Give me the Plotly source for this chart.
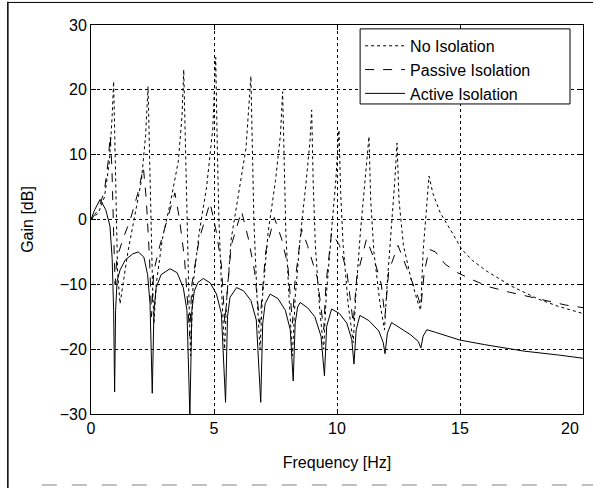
import plotly.graph_objects as go

# ---- data ----
freq_none = [0, 0.3, 0.55, 0.75, 0.86, 0.92, 0.97, 1.02, 1.08, 1.18, 1.3, 1.5, 1.8, 2.05, 2.22, 2.32,
             2.38, 2.43, 2.5, 2.56, 2.65, 2.9, 3.25, 3.55, 3.7, 3.77, 3.83, 3.9, 3.98, 4.05, 4.15, 4.4,
             4.7, 4.95, 5.07, 5.13, 5.2, 5.32, 5.43, 5.52, 5.7, 6.0, 6.3, 6.5, 6.56, 6.62, 6.75, 6.87,
             6.97, 7.2, 7.5, 7.7, 7.79, 7.85, 7.92, 8.05, 8.19, 8.3, 8.5, 8.75, 8.9, 8.97, 9.03, 9.12,
             9.3, 9.46, 9.56, 9.75, 9.95, 10.08, 10.15, 10.25, 10.45, 10.66, 10.76, 10.95, 11.15, 11.3,
             11.37, 11.5, 11.75, 11.93, 12.02, 12.2, 12.35, 12.44, 12.52, 12.7, 13.0, 13.3, 13.4, 13.5,
             13.65, 13.74, 13.9, 14.2, 14.6, 15.07, 15.5, 16.1, 17.1, 18.2, 19.0, 20.0]
gain_none = [0, 1, 3.5, 9, 16, 21.3, 12, 0, -8, -13, -10, -5, 1, 6, 13, 20.5,
             10, 0, -10, -16, -10, -3, 3, 9, 16, 23.1, 12, 0, -12, -21, -10, -2,
             5, 14, 25, 12, 0, -12, -20, -12, -3, 4, 11, 22.1, 10, 0, -12, -20,
             -12, -2, 6, 13, 19.7, 8, -2, -12, -21, -12, -3, 6, 12, 16.9, 6, -4,
             -14, -20, -12, -3, 6, 13.8, 4, -4, -13, -19, -12, -2, 6, 12.8,
             3, -5, -13, -17, -11, -2, 6, 11.8, 3, -4, -9, -13, -14, -5,
             3, 6.7, 4, 1, -1.5, -4.6, -6.3, -8, -10.3, -12.3, -13.4, -14.5]

freq_passive = [0, 0.3, 0.55, 0.7, 0.78, 0.85, 0.92, 0.98, 1.05, 1.3, 1.6, 1.9, 2.13, 2.25, 2.38, 2.46,
                2.55, 2.8, 3.1, 3.41, 3.6, 3.8, 3.95, 4.01, 4.1, 4.4, 4.84, 5.1, 5.3, 5.44, 5.52, 5.7,
                6.12, 6.4, 6.65, 6.86, 6.95, 7.1, 7.45, 7.75, 8.0, 8.19, 8.28, 8.56, 8.8, 9.2, 9.46,
                9.55, 9.78, 10.1, 10.4, 10.66, 10.8, 11.2, 11.5, 11.8, 11.95, 12.1, 12.48, 12.9, 13.3,
                13.41, 13.55, 13.75, 14.0, 14.4, 14.9, 15.5, 16.2, 17.0, 17.6, 18.2, 18.8, 19.3, 20.0]
gain_passive = [0, 1.5, 4.5, 9, 13, 8, -2, -10, -6, -3, 0, 4, 8, 3, -6, -15,
                -8, -4, 0, 4.1, 0, -6, -14, -18, -10, -3, 2.6, -2, -7, -16, -12, -4,
                1.3, -3, -8, -16, -12, -5, 0.3, -3, -7, -16, -10, -1.5, -4, -9, -17,
                -10, -2, -4, -8, -16, -9, -3, -6, -10, -15, -8, -4, -8, -12,
                -13.5, -8, -4.6, -5, -6.9, -8.2, -9.3, -10.4, -11.2, -11.7, -12.2, -12.8, -13.2, -13.6]

freq_active = [0, 0.15, 0.37, 0.6, 0.77, 0.86, 0.92, 0.96, 1.0, 1.06, 1.18, 1.4, 1.7, 1.92, 2.15, 2.3,
               2.4, 2.49, 2.56, 2.65, 2.85, 3.21, 3.5, 3.75, 3.9, 4.02, 4.1, 4.2, 4.35, 4.57, 4.85,
               5.1, 5.3, 5.47, 5.55, 5.65, 5.92, 6.2, 6.5, 6.72, 6.9, 6.98, 7.08, 7.28, 7.6, 7.9, 8.1,
               8.22, 8.3, 8.4, 8.5, 8.8, 9.1, 9.35, 9.49, 9.58, 9.78, 10.1, 10.4, 10.6, 10.69, 10.78,
               10.93, 11.3, 11.7, 11.88, 11.95, 12.05, 12.22, 12.6, 13.0, 13.3, 13.41, 13.5, 13.65,
               14.0, 15.0, 16.0, 17.6, 19.0, 20.0]
gain_active = [0, 1.5, 3.1, 1.5, -1, -6, -14, -26.6, -14, -9.5, -7.8, -6.2, -5.3, -5.0, -5.8, -8.5,
               -13, -26.8, -14, -10.5, -8.5, -7.6, -8.2, -10.5, -14, -30.5, -14, -11, -9.7, -9.1, -9.8,
               -11.5, -14.5, -28.2, -15, -12, -10.5, -11, -12.5, -15.5, -28.2, -16, -13, -11.5, -12.2, -14, -17,
               -24.9, -16, -13.5, -12.8, -13.6, -15, -18, -24.1, -16.5, -13.8, -14.5, -16, -18.5, -22.3, -17,
               -14.8, -15.6, -17.2, -19, -20.7, -17.5, -15.9, -16.8, -17.8, -18.8, -19.8, -18, -17.0,
               -17.4, -18.6, -19.3, -20.3, -20.9, -21.4]

x_ticks = [0, 5, 10, 15, 20]
x_tick_labels = ["0", "5", "10", "15", ""]   # the "20" label is placed right-aligned below
last_x_label = "20"
y_ticks = [-30, -20, -10, 0, 10, 20, 30]

FONT = "Liberation Sans, Arial, Helvetica, sans-serif"

fig = go.Figure()
fig.add_trace(go.Scatter(x=freq_none, y=gain_none, mode="lines", name="No Isolation",
                         line=dict(color="black", width=1, dash="dot")))
fig.add_trace(go.Scatter(x=freq_passive, y=gain_passive, mode="lines", name="Passive Isolation",
                         line=dict(color="black", width=1, dash="dash")))
fig.add_trace(go.Scatter(x=freq_active, y=gain_active, mode="lines", name="Active Isolation",
                         line=dict(color="black", width=1)))

axis_common = dict(showline=True, linecolor="black", linewidth=1, mirror="ticks",
                   ticks="inside", ticklen=5, tickcolor="black", automargin=False,
                   showgrid=True, gridcolor="black", gridwidth=1, griddash="dot",
                   zeroline=False, tickfont=dict(size=16, color="black", family=FONT))

fig.update_xaxes(range=[0, 20], tickvals=x_ticks, ticktext=x_tick_labels,
                 title=dict(text="Frequency [Hz]", font=dict(size=16, color="black", family=FONT), standoff=20),
                 **axis_common)
fig.update_yaxes(range=[-30, 30], tickvals=y_ticks,
                 title=dict(text="Gain [dB]", font=dict(size=16, color="black", family=FONT), standoff=22),
                 **axis_common)

fig.add_annotation(x=x_ticks[-1], xref="x", y=0, yref="paper", text=last_x_label,
                   showarrow=False, xanchor="right", yanchor="top", xshift=-2, yshift=-4,
                   font=dict(size=16, color="black", family=FONT))

fig.update_layout(
    width=593, height=488,
    margin=dict(l=91, r=10, t=25, b=74),
    paper_bgcolor="white", plot_bgcolor="white",
    font=dict(family=FONT, color="black"),
    showlegend=True,
    legend=dict(x=0.547, y=0.99, xanchor="left", yanchor="top",
                bgcolor="rgba(0,0,0,0)", borderwidth=0,
                font=dict(size=16, color="black", family=FONT),
                tracegroupgap=0, itemwidth=40),
    shapes=[
        # legend frame (wider, as in the reference)
        dict(type="rect", xref="paper", yref="paper", x0=0.547, x1=0.9736, y0=0.797, y1=0.99,
             line=dict(color="black", width=1), fillcolor="white", layer="above"),
        # scanned page frame
        dict(type="line", xref="paper", yref="paper", x0=-0.169, x1=-0.169, y0=-0.19, y1=1.06,
             line=dict(color="black", width=1.5)),
        dict(type="line", xref="paper", yref="paper", x0=-0.169, x1=1.03, y0=1.058, y1=1.058,
             line=dict(color="black", width=1)),
        dict(type="line", xref="paper", yref="paper", x0=-0.10, x1=1.03, y0=-0.1825, y1=-0.1825,
             line=dict(color="gray", width=1, dash="longdash")),
    ],
)

fig.write_html("out.html", config={"displayModeBar": False},
               post_script="document.body.style.margin='0';")
